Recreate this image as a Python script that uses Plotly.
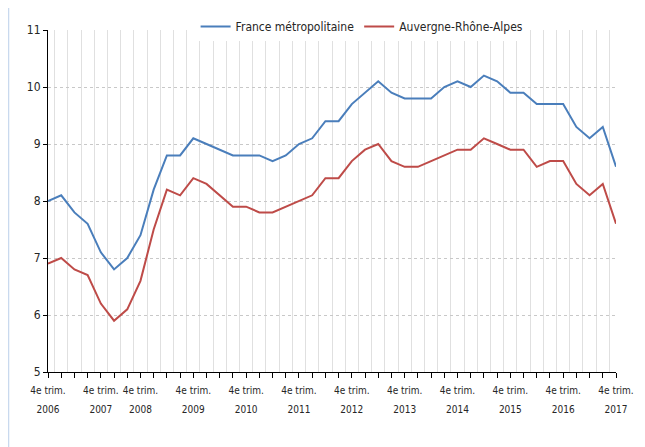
import plotly.graph_objects as go

# Quarterly unemployment rate (%), one value per quarter
france = [8.0, 8.1, 7.8, 7.6, 7.1, 6.8, 7.0, 7.4, 8.2, 8.8,
          8.8, 9.1, 9.0, 8.9, 8.8, 8.8, 8.8, 8.7, 8.8, 9.0,
          9.1, 9.4, 9.4, 9.7, 9.9, 10.1, 9.9, 9.8, 9.8, 9.8,
          10.0, 10.1, 10.0, 10.2, 10.1, 9.9, 9.9, 9.7, 9.7, 9.7,
          9.3, 9.1, 9.3, 8.6]
ara = [6.9, 7.0, 6.8, 6.7, 6.2, 5.9, 6.1, 6.6, 7.5, 8.2,
       8.1, 8.4, 8.3, 8.1, 7.9, 7.9, 7.8, 7.8, 7.9, 8.0,
       8.1, 8.4, 8.4, 8.7, 8.9, 9.0, 8.7, 8.6, 8.6, 8.7,
       8.8, 8.9, 8.9, 9.1, 9.0, 8.9, 8.9, 8.6, 8.7, 8.7,
       8.3, 8.1, 8.3, 7.6]
series_names = ["France métropolitaine", "Auvergne-Rhône-Alpes"]

quarter_index = list(range(len(france)))
tick_quarter = "4e trim."
tick_years = ["2006", "2007", "2008", "2009", "2010", "2011",
              "2012", "2013", "2014", "2015", "2016", "2017"]
tick_index = [0, 4, 7, 11, 15, 19, 23, 27, 31, 35, 39, 43]

FONT = "DejaVu Sans Condensed, Liberation Sans Narrow, Arial Narrow, sans-serif"

fig = go.Figure()
fig.add_trace(go.Scatter(x=quarter_index, y=france, mode="lines", name=series_names[0],
                         line=dict(color="#4a7ebb", width=2)))
fig.add_trace(go.Scatter(x=quarter_index, y=ara, mode="lines", name=series_names[1],
                         line=dict(color="#be4b48", width=2)))
# invisible carrier so the year-label axis is drawn
fig.add_trace(go.Scatter(x=tick_index, y=[france[i] for i in tick_index], xaxis="x2",
                         mode="markers", marker=dict(opacity=0), showlegend=False,
                         hoverinfo="skip"))

first_line = [tick_quarter if i in tick_index else "" for i in quarter_index]
xr = [0, len(france) - 1]

fig.update_layout(
    width=645, height=447,
    margin=dict(l=40, r=37, t=22, b=83, autoexpand=False),
    paper_bgcolor="white", plot_bgcolor="white",
    font=dict(family=FONT, size=12, color="#262626"),
    showlegend=True,
    legend=dict(orientation="h", x=0.553, xanchor="center", y=1.01, yanchor="middle",
                bgcolor="white", font=dict(size=12, color="#262626")),
    xaxis=dict(range=xr, tickmode="array", tickvals=quarter_index, ticktext=first_line,
               tickangle=0,
               ticks="outside", ticklen=5, tickcolor="#000000", tickwidth=1,
               showline=True, linecolor="#000000", linewidth=1,
               showgrid=False, zeroline=False,
               ticklabelstandoff=4,
               tickfont=dict(size=10, color="#262626"),
               minor=dict(tickmode="linear", tick0=0.5, dtick=1, showgrid=True,
                          gridcolor="#e0e0e0", gridwidth=1, ticks="")),
    xaxis2=dict(range=xr, overlaying="x", anchor="y", side="bottom",
                tickmode="array", tickvals=tick_index, ticktext=tick_years,
                tickangle=0,
                ticks="", showline=False, showgrid=False, zeroline=False,
                ticklabelstandoff=30,
                tickfont=dict(size=10, color="#262626")),
    yaxis=dict(range=[5, 11], dtick=1, tick0=5,
               ticks="outside", ticklen=4, tickcolor="#000000",
               showline=True, linecolor="#000000", linewidth=1,
               showgrid=True, gridcolor="#c8c8c8", griddash="dot", gridwidth=1,
               zeroline=False, tickfont=dict(size=12, color="#262626")),
    shapes=[
        dict(type="rect", xref="paper", yref="paper", x0=0.25, x1=0.854, y0=0.933, y1=1.0,
             fillcolor="white", line=dict(width=0), layer="between"),
        dict(type="line", xref="paper", yref="paper", x0=-0.0695, x1=-0.0695, y0=-0.3, y1=1.1,
             line=dict(color="#c9d9ee", width=1.5), layer="above"),
    ],
)

fig.write_html("out.html")
